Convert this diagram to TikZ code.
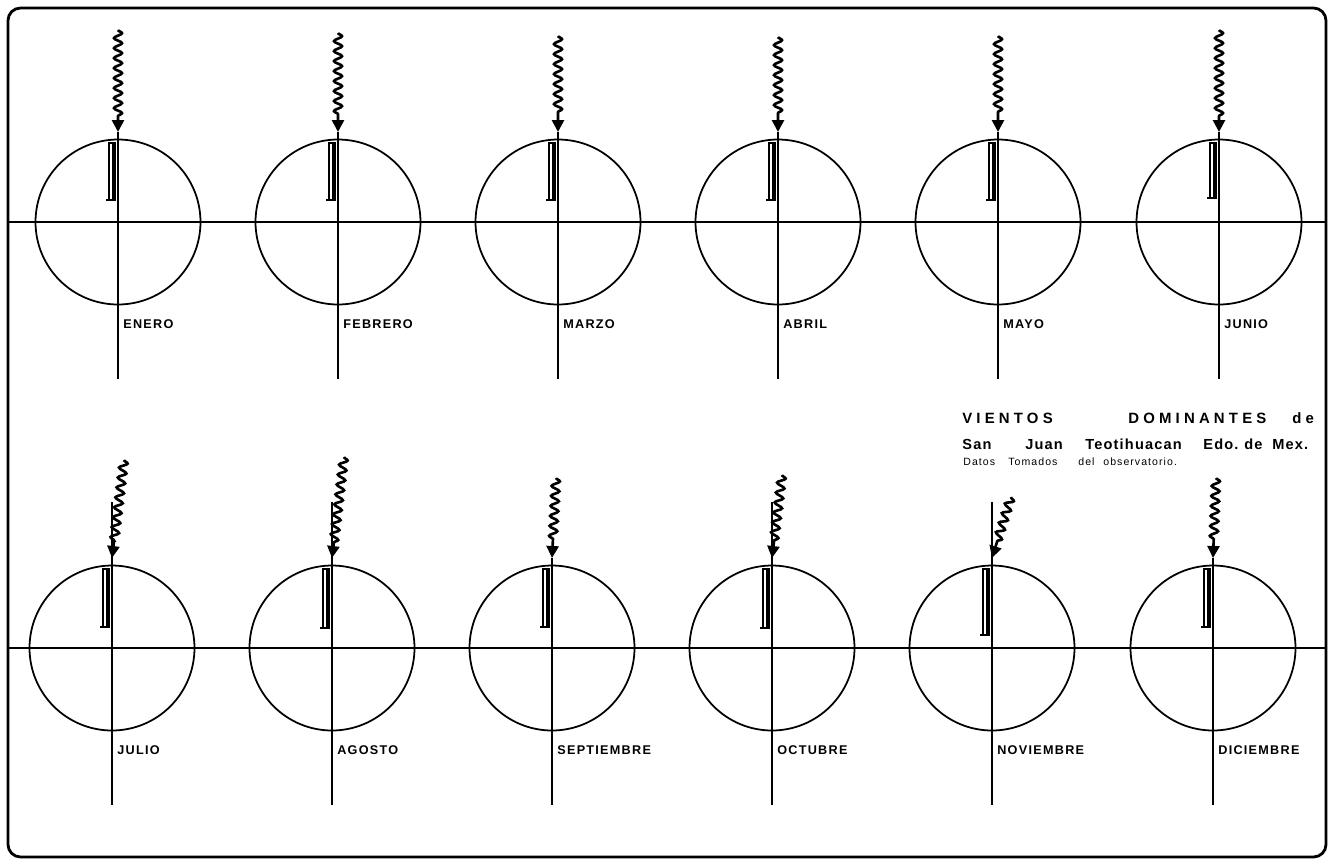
\documentclass[tikz,border=0pt]{standalone}
\usepackage{fontspec}
\newfontfamily\rotfont[LetterSpace=10]{Liberation Sans}
\newfontfamily\titfont[LetterSpace=28]{Liberation Sans}
\newfontfamily\subfont[LetterSpace=8]{Liberation Sans}
\usetikzlibrary{decorations.pathmorphing,arrows.meta}

\begin{document}
\begin{tikzpicture}[x=0.02cm,y=-0.02cm,
    rueda/.style={circle,draw,line width=1pt,minimum size=3.3cm,inner sep=0pt,outer sep=0pt},
    eje/.style={line width=0.75pt},
    viento/.style={line width=1.5pt,decorate,
      decoration={snake,amplitude=0.08cm,segment length=0.2cm,post length=0.3cm},
      -{Triangle[length=0.24cm,width=0.24cm]}},
    barra/.style={line width=0.7pt},
    mes/.style={font=\rotfont\bfseries\fontsize{7.2}{9}\selectfont,anchor=west,inner sep=0pt},
    titulo/.style={font=\titfont\bfseries\fontsize{8.5}{10}\selectfont,anchor=base west,inner sep=0pt},
    lugar/.style={font=\subfont\bfseries\fontsize{8.3}{10}\selectfont,anchor=base west,inner sep=0pt},
    nota/.style={font=\rotfont\fontsize{6}{7}\selectfont,anchor=base west,inner sep=0pt}]

    \useasboundingbox (0,0) rectangle (1332,863);
    \draw[line width=1.6pt,rounded corners=0.25cm] (8,8) rectangle (1326,857);

    % ejes horizontales
    \draw[eje] (8,222) -- (1326,222);
    \draw[eje] (8,648) -- (1326,648);

    \foreach \x/\cy/\nom/\lbl/\wdx/\wy/\ay/\bb in {
        118/222/ene/ENERO/0/30/132/200,
        338/222/feb/FEBRERO/0/33/132/200,
        558/222/mar/MARZO/0/36/132/200,
        778/222/abr/ABRIL/0/37/132/200,
        998/222/may/MAYO/0/36/132/200,
        1219/222/jun/JUNIO/0/30/132/198,
        112/648/jul/JULIO/12/460/502/627,
        332/648/ago/AGOSTO/12/457/502/628,
        552/648/sep/SEPTIEMBRE/4/478/558/627,
        772/648/oct/OCTUBRE/10/475/502/628,
        992/648/nov/NOVIEMBRE/19/497/502/635,
        1213/648/dic/DICIEMBRE/3/478/558/627} {
      \node[rueda] (c\nom) at (\x,\cy) {};
      \coordinate (a\nom) at (\x,\ay);
      \coordinate (z\nom) at (\x,\cy+157);
      \coordinate (p\nom) at (\x,\cy-90);
      \coordinate (w\nom) at (\x+\wdx,\wy);
      \draw[eje] (a\nom) -- (z\nom);
      \draw[viento] (w\nom) -- (p\nom);
      % barra de frecuencia
      \draw[barra] (\x-9,\cy-79) rectangle (\x-3,\bb);
      \draw[line width=1.5pt] (\x-4.5,\cy-79) -- (\x-4.5,\bb);
      \draw[barra] (\x-12,\bb) -- (\x-2,\bb);
      \node[mes] (l\nom) at (\x+5,\cy+102) {\lbl};
    }

    % titulo
    \node[titulo] (t1) at (962,423) {VIENTOS};
    \node[titulo] (t2) at (1128,423) {DOMINANTES};
    \node[titulo] (t3) at (1292,423) {de};
    \node[lugar] (s1) at (962,449) {San};
    \node[lugar] (s2) at (1025,449) {Juan};
    \node[lugar] (s3) at (1085,449) {Teotihuacan};
    \node[lugar] (s4) at (1203,449) {Edo.};
    \node[lugar] (s5) at (1244,449) {de};
    \node[lugar] (s6) at (1272,449) {Mex.};
    \node[nota] (n1) at (963,465) {Datos};
    \node[nota] (n2) at (1008,465) {Tomados};
    \node[nota] (n3) at (1078,465) {del};
    \node[nota] (n4) at (1103,465) {observatorio.};
\end{tikzpicture}
\end{document}
